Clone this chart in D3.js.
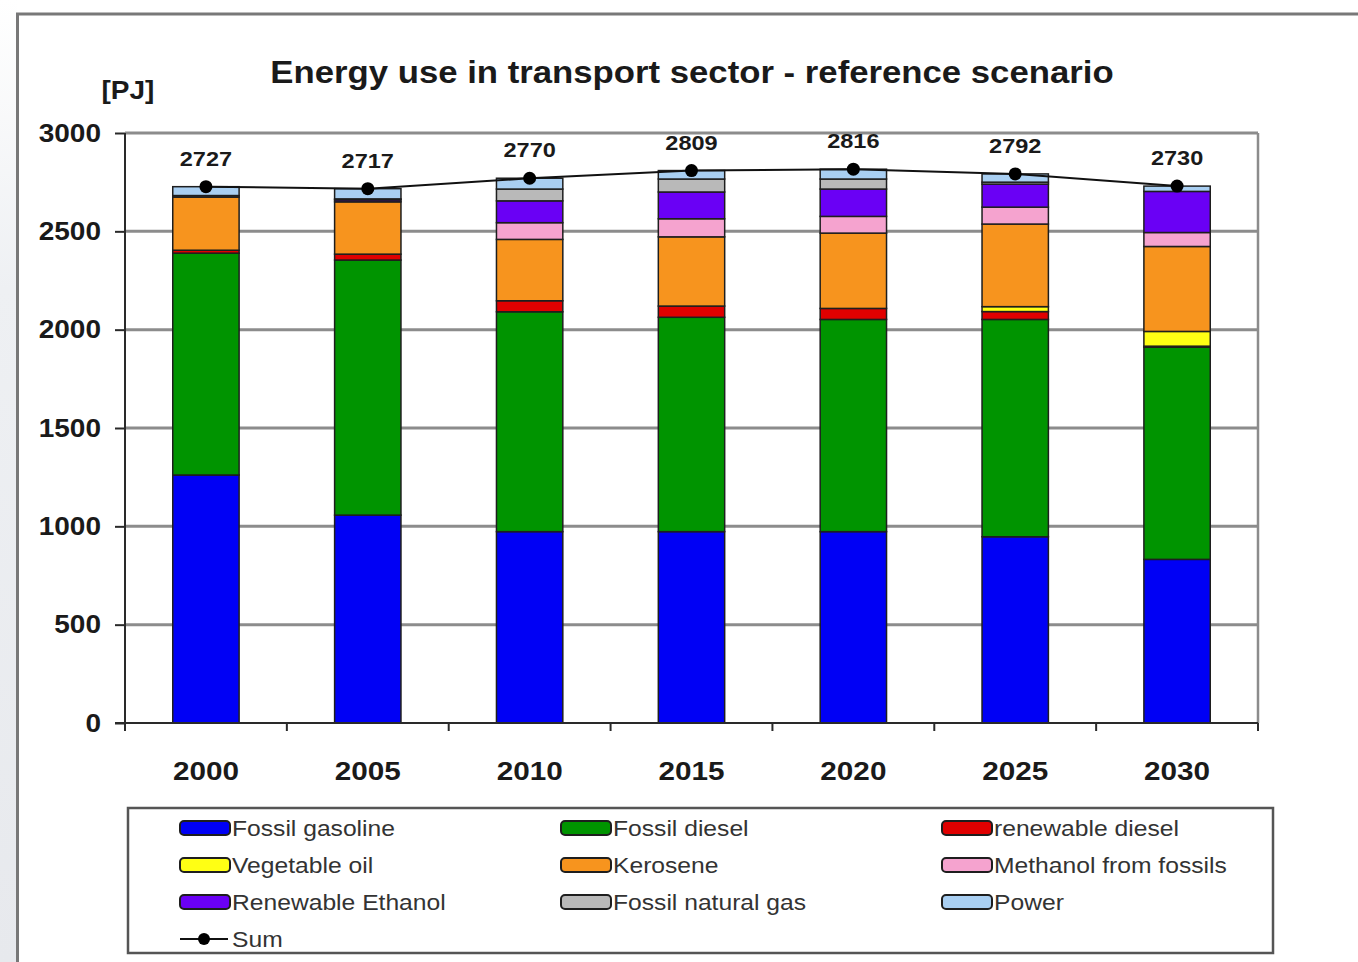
<!DOCTYPE html>
<html>
<head>
<meta charset="utf-8">
<script src="https://cdn.jsdelivr.net/npm/d3@7"></script>
<style>
  html, body { margin: 0; padding: 0; background: #fff; }
  svg { display: block; font-family: "Liberation Sans", Arial, sans-serif; }
</style>
</head>
<body>
<svg id="chart" width="1358" height="962"></svg>
<script>
// Years on the x axis
const years = ["2000", "2005", "2010", "2015", "2020", "2025", "2030"];

// Energy use per fuel [PJ], bottom to top of each stack
const fossilGasoline   = [1261, 1057, 973, 973, 973, 947, 832];
const fossilDiesel     = [1128, 1297, 1118, 1090, 1079, 1105, 1079];
const renewableDiesel  = [15, 30, 56, 57, 56, 40, 5];
const vegetableOil     = [0, 0, 0, 0, 0, 25, 75];
const kerosene         = [270, 266, 312, 352, 383, 420, 432];
const methanolFossils  = [0, 0, 85, 92, 85, 86, 71];
const renewableEthanol = [0, 10, 111, 136, 139, 117, 209];
const fossilNaturalGas = [8, 5, 60, 66, 51, 10, 0];
const power            = [45, 52, 55, 43, 50, 42, 27];

// Total per year, shown by the line and its labels
const sum = [2727, 2717, 2770, 2809, 2816, 2792, 2730];

// Series names and fills, in stacking order
const seriesNames = ["Fossil gasoline", "Fossil diesel", "renewable diesel",
  "Vegetable oil", "Kerosene", "Methanol from fossils",
  "Renewable Ethanol", "Fossil natural gas", "Power"];
const seriesValues = [fossilGasoline, fossilDiesel, renewableDiesel,
  vegetableOil, kerosene, methanolFossils, renewableEthanol,
  fossilNaturalGas, power];
const seriesColors = ["#0000f5", "#009400", "#e00000", "#ffff14", "#f7941e",
  "#f5a3cf", "#6a00f5", "#b9b9b9", "#a9cff2"];

const yTicks = [0, 500, 1000, 1500, 2000, 2500, 3000];

const svg = d3.select("#chart");

// Page backdrop: soft grey strip on the left, framed white panel
const defs = svg.append("defs");
const grad = defs.append("linearGradient").attr("id", "sideFade")
  .attr("x1", 0).attr("y1", 0).attr("x2", 0).attr("y2", 1);
grad.append("stop").attr("offset", "0%").attr("stop-color", "#ffffff");
grad.append("stop").attr("offset", "30%").attr("stop-color", "#eef0f3");
grad.append("stop").attr("offset", "100%").attr("stop-color", "#e7e9ed");
svg.append("rect").attr("x", 0).attr("y", 0).attr("width", 17).attr("height", 962)
  .attr("fill", "url(#sideFade)");
svg.append("rect").attr("x", 17.5).attr("y", 14).attr("width", 1400).attr("height", 1000)
  .attr("fill", "#fff").attr("stroke", "#787878").attr("stroke-width", 3);

// Plot area
const plot = { left: 125, right: 1258, top: 133, bottom: 723 };

const x = d3.scaleBand().domain(years)
  .range([plot.left, plot.right])
  .paddingInner(0.59).paddingOuter(0.295);

const y = d3.scaleLinear().domain([0, 3000]).range([plot.bottom, plot.top]);

// Horizontal gridlines
svg.append("g").selectAll("line").data(yTicks.filter(d => d > 0)).join("line")
  .attr("x1", plot.left).attr("x2", plot.right)
  .attr("y1", d => y(d)).attr("y2", d => y(d))
  .attr("stroke", "#8c8c8c").attr("stroke-width", 3);

// Right edge of the plot area
svg.append("line")
  .attr("x1", plot.right).attr("x2", plot.right)
  .attr("y1", plot.top).attr("y2", plot.bottom)
  .attr("stroke", "#8c8c8c").attr("stroke-width", 2.5);

// Stacked bars
const table = years.map((yr, i) => {
  const row = { year: yr };
  seriesNames.forEach((n, k) => { row[n] = seriesValues[k][i]; });
  return row;
});
const stacked = d3.stack().keys(seriesNames)(table);

svg.append("g").selectAll("g").data(stacked).join("g")
  .attr("fill", (d, k) => seriesColors[k])
  .selectAll("rect").data(d => d.filter(s => s[1] - s[0] > 0)).join("rect")
  .attr("x", d => x(d.data.year))
  .attr("width", x.bandwidth())
  .attr("y", d => y(d[1]))
  .attr("height", d => y(d[0]) - y(d[1]))
  .attr("stroke", "#1e1e1e").attr("stroke-width", 1.5);

// Y axis
const yAxis = svg.append("g")
  .attr("transform", `translate(${plot.left},0)`)
  .call(d3.axisLeft(y).tickValues(yTicks).tickFormat(d3.format("d"))
    .tickSize(10).tickSizeOuter(0).tickPadding(14));
yAxis.select(".domain").remove();
yAxis.selectAll(".tick line").attr("stroke", "#2a2a2a").attr("stroke-width", 2);
yAxis.selectAll(".tick text")
  .attr("font-size", 25).attr("font-weight", "bold").attr("fill", "#1a1a1a");
svg.append("line")
  .attr("x1", plot.left).attr("x2", plot.left)
  .attr("y1", plot.top).attr("y2", plot.bottom + 8)
  .attr("stroke", "#2a2a2a").attr("stroke-width", 2);

// X axis: baseline, boundary ticks between categories, year labels
svg.append("line")
  .attr("x1", plot.left - 10).attr("x2", plot.right)
  .attr("y1", plot.bottom).attr("y2", plot.bottom)
  .attr("stroke", "#2a2a2a").attr("stroke-width", 2);
const boundaries = years.slice(1).map(yr => x(yr) - x.step() * x.paddingInner() / 2)
  .concat([plot.right]);
svg.append("g").selectAll("line").data(boundaries).join("line")
  .attr("x1", d => d).attr("x2", d => d)
  .attr("y1", plot.bottom).attr("y2", plot.bottom + 8)
  .attr("stroke", "#2a2a2a").attr("stroke-width", 2);

const xAxis = svg.append("g")
  .attr("transform", `translate(0,${plot.bottom})`)
  .call(d3.axisBottom(x).tickSize(0).tickPadding(38));
xAxis.select(".domain").remove();
xAxis.selectAll(".tick text")
  .attr("font-size", 26.5).attr("font-weight", "bold").attr("fill", "#1a1a1a");

// Sum line with markers and value labels
const cx = yr => x(yr) + x.bandwidth() / 2;
const sumLine = d3.line().x((d, i) => cx(years[i])).y(d => y(d));
svg.append("path").datum(sum)
  .attr("d", sumLine).attr("fill", "none")
  .attr("stroke", "#111").attr("stroke-width", 2);
svg.append("g").selectAll("circle").data(sum).join("circle")
  .attr("cx", (d, i) => cx(years[i])).attr("cy", d => y(d)).attr("r", 6.5)
  .attr("fill", "#000");
svg.append("g").selectAll("text").data(sum).join("text")
  .attr("x", (d, i) => cx(years[i])).attr("y", d => y(d) - 21)
  .attr("text-anchor", "middle")
  .attr("font-size", 21).attr("font-weight", "bold").attr("fill", "#1a1a1a")
  .text(d => d);

// Title and unit
svg.append("text").attr("x", 692).attr("y", 83).attr("text-anchor", "middle")
  .attr("font-size", 31).attr("font-weight", "bold").attr("fill", "#1a1a1a")
  .text("Energy use in transport sector - reference scenario");
svg.append("text").attr("x", 128).attr("y", 99).attr("text-anchor", "middle")
  .attr("font-size", 25).attr("font-weight", "bold").attr("fill", "#1a1a1a")
  .text("[PJ]");

// Legend
const legend = svg.append("g");
legend.append("rect").attr("x", 128).attr("y", 808).attr("width", 1145).attr("height", 145)
  .attr("fill", "#fff").attr("stroke", "#555").attr("stroke-width", 2.5);
const colX = [180, 561, 942];
const rowY = [828, 865, 902, 939];
const items = legend.selectAll("g.item").data(seriesNames).join("g")
  .attr("class", "item")
  .attr("transform", (d, i) => `translate(${colX[i % 3]},${rowY[Math.floor(i / 3)]})`);
items.append("rect").attr("x", 0).attr("y", -7).attr("width", 50).attr("height", 14)
  .attr("rx", 4).attr("fill", (d, i) => seriesColors[i])
  .attr("stroke", "#1e1e1e").attr("stroke-width", 2);
items.append("text").attr("x", 52).attr("y", 8)
  .attr("font-size", 22).attr("fill", "#333").text(d => d);

const sumItem = legend.append("g")
  .attr("transform", `translate(${colX[0]},${rowY[3]})`);
sumItem.append("line").attr("x1", 0).attr("x2", 48).attr("y1", 0).attr("y2", 0)
  .attr("stroke", "#111").attr("stroke-width", 2);
sumItem.append("circle").attr("cx", 24).attr("cy", 0).attr("r", 6).attr("fill", "#000");
sumItem.append("text").attr("x", 52).attr("y", 8)
  .attr("font-size", 22).attr("fill", "#333").text("Sum");

// Slightly wide lettering throughout
svg.selectAll("text").each(function () {
  const w = this.getComputedTextLength();
  d3.select(this).attr("textLength", w * 1.12).attr("lengthAdjust", "spacingAndGlyphs");
});
</script>
</body>
</html>
